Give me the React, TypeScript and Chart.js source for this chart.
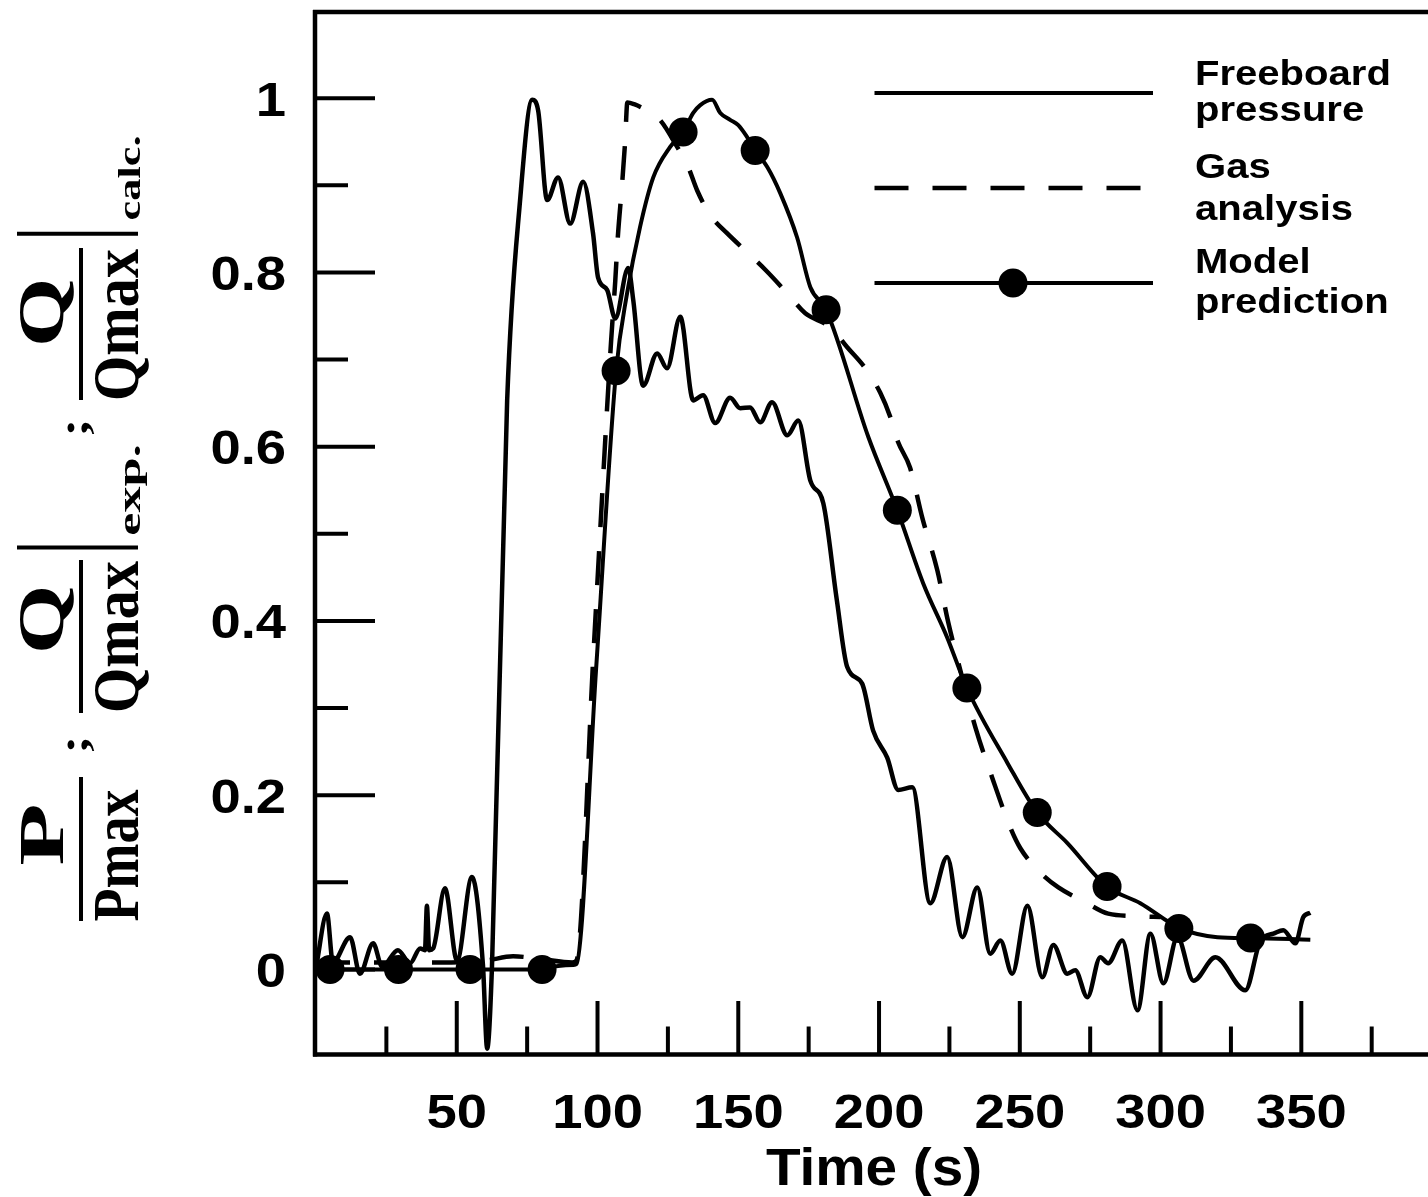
import React, { useEffect, useRef } from "react";
import { Chart, registerables } from "chart.js";

Chart.register(...registerables);

// ---------- data (time in s, normalised values) ----------
const pressureT = [0, 3.9, 6.0, 12.1, 15.6, 20.3, 23.5, 29.1, 33.4, 37.0, 38.7, 39.4, 40.2, 41.6, 45.8, 50.1, 55.4, 59.3, 60.8, 62.5, 67.9, 72.5, 76.8, 78.9, 82.1, 86.0, 90.3, 94.9, 98.4, 100.2, 103.4, 106.3, 110.9, 112.7, 116.2, 121.2, 124.7, 129.4, 134.0, 137.5, 141.8, 147.1, 150.7, 154.2, 157.8, 162.0, 167.4, 171.3, 175.6, 180.2, 185.0, 188.7, 194.0, 197.9, 202.9, 206.8, 211.8, 218.2, 224.2, 229.6, 234.9, 239.5, 243.1, 247.3, 252.7, 258.0, 261.9, 266.9, 269.7, 274.0, 278.6, 281.4, 286.4, 291.8, 296.4, 301.0, 306.0, 311.7, 319.5, 330.1, 335.5, 340.1, 343.6, 347.9, 350.7, 353.2];
const pressureV = [0.002, 0.064, 0.008, 0.037, -0.005, 0.030, 0.003, 0.022, 0.007, 0.024, 0.022, 0.073, 0.022, 0.024, 0.093, 0.010, 0.106, 0.005, -0.091, 0.002, 0.653, 0.883, 0.998, 0.986, 0.883, 0.909, 0.856, 0.904, 0.845, 0.794, 0.780, 0.747, 0.805, 0.768, 0.670, 0.707, 0.690, 0.749, 0.653, 0.659, 0.627, 0.656, 0.644, 0.645, 0.628, 0.651, 0.613, 0.630, 0.561, 0.535, 0.424, 0.347, 0.328, 0.274, 0.243, 0.206, 0.209, 0.076, 0.129, 0.037, 0.094, 0.018, 0.033, -0.005, 0.073, -0.009, 0.028, -0.005, -0.001, -0.032, 0.014, 0.007, 0.033, -0.047, 0.041, -0.016, 0.037, -0.013, 0.014, -0.024, 0.033, 0.041, 0.045, 0.030, 0.060, 0.065];

const gasT = [0, 40, 60, 70, 80, 91, 92.5, 98.6, 104.8, 106.3, 107.2, 108.7, 109.8, 110.6, 113, 118, 122.2, 128.3, 132.2, 135.4, 140, 146, 153.5, 159.6, 167.4, 173.8, 182.7, 188.7, 195.1, 200.4, 204, 206.8, 211, 215.4, 220.7, 224.6, 228.9, 234.2, 240.2, 246.6, 250.2, 257.3, 263.7, 273.3, 281.4, 293, 300];
const gasV = [0.008, 0.008, 0.01, 0.015, 0.012, 0.008, 0.01, 0.365, 0.72, 0.79, 0.84, 0.90, 0.95, 0.995, 0.993, 0.985, 0.975, 0.944, 0.921, 0.894, 0.866, 0.845, 0.822, 0.803, 0.776, 0.753, 0.737, 0.714, 0.690, 0.662, 0.634, 0.605, 0.576, 0.518, 0.458, 0.398, 0.343, 0.278, 0.220, 0.163, 0.139, 0.111, 0.094, 0.077, 0.064, 0.061, 0.06];

const modelT = [0, 80, 86, 91.5, 92.5, 99.5, 106.6, 110.5, 115.1, 119.8, 125.8, 130.4, 134, 136.5, 140.7, 143.6, 147.1, 150, 153.2, 156, 160.3, 164.9, 170.9, 175.6, 181.2, 196.2, 206.5, 215.7, 224.2, 231.2, 245.6, 256.2, 266.9, 281, 292.8, 307, 320.2, 332, 353.2];
const modelV = [0, 0, 0.004, 0.005, 0.006, 0.345, 0.687, 0.776, 0.852, 0.909, 0.944, 0.961, 0.983, 0.992, 0.998, 0.983, 0.975, 0.969, 0.955, 0.940, 0.921, 0.891, 0.840, 0.783, 0.757, 0.611, 0.527, 0.443, 0.381, 0.323, 0.237, 0.180, 0.145, 0.095, 0.076, 0.047, 0.037, 0.036, 0.034];

const markerT = [5, 29.3, 54.7, 80.3, 106.6, 130.4, 156, 181.2, 206.5, 231.2, 256.2, 281, 306.5, 332];
const markerV = [0, 0, 0, 0, 0.687, 0.961, 0.940, 0.757, 0.527, 0.323, 0.180, 0.095, 0.047, 0.036];

const xMajorTicks = [50, 100, 150, 200, 250, 300, 350];
const xMinorTicks = [25, 75, 125, 175, 225, 275, 325, 375];
const xTickLabels = ["50", "100", "150", "200", "250", "300", "350"];
const yMajorTicks = [0, 0.2, 0.4, 0.6, 0.8, 1];
const yMinorTicks = [0.1, 0.3, 0.5, 0.7, 0.9];
const yTickLabels = ["0", "0.2", "0.4", "0.6", "0.8", "1"];
const legendLabels = [["Freeboard", "pressure"], ["Gas", "analysis"], ["Model", "prediction"]];
const xTitle = "Time (s)";

// y-axis title pieces (rotated text): text, baseline x, centre y, ink ascent, ink length
const yTitleTexts = [
  { text: "P", bx: 63, cy: 835, asc: 41, len: 58 },
  { text: "Pmax", bx: 138, cy: 855, asc: 42, len: 131 },
  { text: ";", bx: 87, cy: 745, asc: 20, len: 12 },
  { text: "Q", bx: 63, cy: 619, asc: 42, len: 64 },
  { text: "Qmax", bx: 138, cy: 636, asc: 42, len: 150 },
  { text: "exp.", bx: 140, cy: 490, asc: 15, len: 88 },
  { text: ";", bx: 87, cy: 428, asc: 20, len: 12 },
  { text: "Q", bx: 63, cy: 312, asc: 42, len: 64 },
  { text: "Qmax", bx: 138, cy: 324, asc: 42, len: 150 },
  { text: "calc.", bx: 140, cy: 178, asc: 22, len: 82 },
];
const yTitleBars = [
  { x1: 81, x2: 81, y1: 777, y2: 921 },
  { x1: 81, x2: 81, y1: 560, y2: 713 },
  { x1: 81, x2: 81, y1: 248, y2: 400 },
  { x1: 17, x2: 138, y1: 547.6, y2: 547.6 },
  { x1: 17, x2: 138, y1: 233.8, y2: 233.8 },
];

const SANS = '"Liberation Sans", Arial, sans-serif';
const SERIF = '"Liberation Serif", "Times New Roman", serif';

function inkWidth(ctx: CanvasRenderingContext2D, t: string) {
  const m = ctx.measureText(t);
  return m.actualBoundingBoxLeft + m.actualBoundingBoxRight;
}

function hText(ctx: CanvasRenderingContext2D, t: string, x: number, y: number, align: CanvasTextAlign, hs: number) {
  ctx.save();
  ctx.translate(x, y);
  ctx.scale(hs, 1);
  ctx.textAlign = align;
  ctx.textBaseline = "alphabetic";
  ctx.fillText(t, 0, 0);
  ctx.restore();
}

function line(ctx: CanvasRenderingContext2D, x1: number, y1: number, x2: number, y2: number) {
  ctx.beginPath();
  ctx.moveTo(x1, y1);
  ctx.lineTo(x2, y2);
  ctx.stroke();
}

const bgPlugin = {
  id: "bg",
  beforeDraw(chart: any) {
    const ctx = chart.ctx;
    ctx.save();
    ctx.fillStyle = "#fff";
    ctx.fillRect(0, 0, chart.width, chart.height);
    ctx.restore();
  },
};

const axesPlugin = {
  id: "axesFrame",
  afterDatasetsDraw(chart: any) {
    const ctx: CanvasRenderingContext2D = chart.ctx;
    const xs = chart.scales.x;
    const ys = chart.scales.y;
    const ca = chart.chartArea;
    const left = ca.left - 1;
    const top = ca.top + 1;
    const bottom = ca.bottom - 2;
    ctx.save();
    ctx.strokeStyle = "#000";
    ctx.fillStyle = "#000";
    ctx.lineCap = "butt";
    ctx.lineWidth = 4.5;
    // frame
    line(ctx, left, top - 2, left, bottom + 2);
    line(ctx, left - 2, top, chart.width, top);
    line(ctx, left - 2, bottom, chart.width, bottom);
    ctx.lineWidth = 4;
    // x ticks (inward)
    xMajorTicks.forEach((v) => {
      const px = xs.getPixelForValue(v);
      line(ctx, px, bottom, px, bottom - 53.5);
    });
    xMinorTicks.forEach((v) => {
      const px = xs.getPixelForValue(v);
      line(ctx, px, bottom, px, bottom - 28);
    });
    // y ticks (inward)
    yMajorTicks.forEach((v) => {
      const py = ys.getPixelForValue(v);
      line(ctx, left, py, left + 60, py);
    });
    yMinorTicks.forEach((v) => {
      const py = ys.getPixelForValue(v);
      line(ctx, left, py, left + 33, py);
    });

    // tick labels
    ctx.font = `bold 49px ${SANS}`;
    const hsTick = 58 / inkWidth(ctx, "50");
    xMajorTicks.forEach((v, i) => {
      hText(ctx, xTickLabels[i], xs.getPixelForValue(v), 1128, "center", hsTick);
    });
    yMajorTicks.forEach((v, i) => {
      hText(ctx, yTickLabels[i], 286, ys.getPixelForValue(v) + 17.5, "right", hsTick);
    });

    // x title
    ctx.font = `bold 51px ${SANS}`;
    const hsTitle = 214 / inkWidth(ctx, xTitle);
    hText(ctx, xTitle, (ca.left + ca.right) / 2 + 2, 1185, "center", hsTitle);

    // legend
    ctx.lineWidth = 4;
    line(ctx, 874.5, 93, 1153, 93);
    ctx.save();
    ctx.lineWidth = 4.5;
    ctx.setLineDash([34, 24]);
    line(ctx, 874.5, 188, 1141, 188);
    ctx.restore();
    line(ctx, 874.5, 283, 1153, 283);
    ctx.beginPath();
    ctx.arc(1013, 283, 14.5, 0, Math.PI * 2);
    ctx.fill();
    ctx.font = `bold 35px ${SANS}`;
    const hsLeg = 192 / inkWidth(ctx, "Freeboard");
    const baselines = [[85, 121], [178, 220], [273, 313]];
    legendLabels.forEach((pair, i) => {
      pair.forEach((t, j) => hText(ctx, t, 1195, baselines[i][j], "left", hsLeg));
    });

    // y-axis title (rotated, serif)
    yTitleTexts.forEach((p) => {
      ctx.font = `bold 60px ${SERIF}`;
      const m = ctx.measureText(p.text);
      const L = m.actualBoundingBoxLeft;
      const R = m.actualBoundingBoxRight;
      const sx = p.len / (L + R);
      const sy = p.asc / m.actualBoundingBoxAscent;
      ctx.save();
      ctx.translate(p.bx, p.cy);
      ctx.rotate(-Math.PI / 2);
      ctx.scale(sx, sy);
      ctx.textAlign = "left";
      ctx.textBaseline = "alphabetic";
      ctx.fillText(p.text, -(R - L) / 2, 0);
      ctx.restore();
    });
    ctx.lineWidth = 4;
    yTitleBars.forEach((b) => line(ctx, b.x1, b.y1, b.x2, b.y2));

    ctx.restore();
  },
};

function pts(t: number[], v: number[]) {
  return t.map((x, i) => ({ x, y: v[i] }));
}

export default function App() {
  const ref = useRef<HTMLCanvasElement | null>(null);

  useEffect(() => {
    document.body.style.margin = "0";
    document.body.style.overflow = "hidden";
    const canvas = ref.current;
    if (!canvas) return;
    const chart = new Chart(canvas, {
      type: "scatter",
      data: {
        datasets: [
          {
            label: "Freeboard pressure",
            data: pts(pressureT, pressureV),
            showLine: true,
            borderColor: "#000",
            backgroundColor: "#000",
            borderWidth: 4.5,
            pointRadius: 0,
            cubicInterpolationMode: "monotone",
            fill: false,
          },
          {
            label: "Gas analysis",
            data: pts(gasT, gasV),
            showLine: true,
            borderColor: "#000",
            backgroundColor: "#000",
            borderWidth: 4.5,
            borderDash: [34, 24],
            pointRadius: 0,
            cubicInterpolationMode: "monotone",
            fill: false,
          },
          {
            label: "Model prediction",
            data: pts(modelT, modelV),
            showLine: true,
            borderColor: "#000",
            backgroundColor: "#000",
            borderWidth: 4,
            pointRadius: 0,
            cubicInterpolationMode: "monotone",
            fill: false,
          },
          {
            label: "Model prediction points",
            data: pts(markerT, markerV),
            showLine: false,
            pointRadius: 14.5,
            pointStyle: "circle",
            pointBackgroundColor: "#000",
            pointBorderColor: "#000",
            pointBorderWidth: 0,
          },
        ],
      } as any,
      options: {
        responsive: false,
        animation: false,
        devicePixelRatio: 1,
        events: [],
        layout: { autoPadding: false, padding: { left: 316, top: 11, right: 0, bottom: 140.5 } },
        scales: {
          x: { type: "linear", min: 0, max: 395, display: false },
          y: { type: "linear", min: -0.1, max: 1.1, display: false },
        },
        plugins: {
          legend: { display: false },
          tooltip: { enabled: false },
          title: { display: false },
        },
      } as any,
      plugins: [bgPlugin, axesPlugin],
    });
    return () => chart.destroy();
  }, []);

  return <canvas ref={ref} width={1428} height={1197} style={{ display: "block" }} />;
}
